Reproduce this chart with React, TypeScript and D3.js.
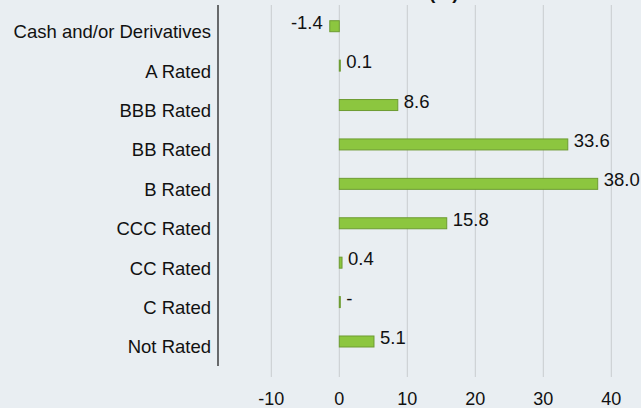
import React from 'react';
import * as d3 from 'd3';

const CATEGORIES = [
  'Cash and/or Derivatives',
  'A Rated',
  'BBB Rated',
  'BB Rated',
  'B Rated',
  'CCC Rated',
  'CC Rated',
  'C Rated',
  'Not Rated',
];
const VALUES = [-1.4, 0.1, 8.6, 33.6, 38.0, 15.8, 0.4, 0, 5.1];
const VALUE_LABELS = ['-1.4', '0.1', '8.6', '33.6', '38.0', '15.8', '0.4', '-', '5.1'];
const X_TICKS = [-10, 0, 10, 20, 30, 40];

const W = 641;
const H = 408;
const FONT = 'Liberation Sans, Arial, Helvetica, sans-serif';

export default function App() {
  document.body.style.margin = '0';

  // scale chosen so that -10 sits at ~271 and 40 at ~611
  const x = d3.scaleLinear().domain([-10, 40]).range([271.3, 611.3]);
  const y = d3.scaleBand().domain(CATEGORIES).range([6.5, 361.2]).paddingInner(0).paddingOuter(0);
  const barH = 11;
  const axisX = 218;

  return (
    <svg width={W} height={H} style={{ display: 'block', background: '#e9eef2' }} fontFamily={FONT}>
      <rect x={0} y={0} width={W} height={H} fill="#e9eef2" />
      {/* cut-off title remnant */}
      <text x={429} y={-1} fontSize={19} fontWeight="bold" fill="#111">(%)</text>

      {/* vertical gridlines */}
      {X_TICKS.map((t) => (
        <line key={t} x1={x(t)} x2={x(t)} y1={5} y2={377} stroke="#c8cccf" strokeWidth={1} />
      ))}

      {/* bars */}
      {CATEGORIES.map((c, i) => {
        const v = VALUES[i];
        const cy = (y(c) as number) + y.bandwidth() / 2;
        const x0 = Math.min(x(0), x(v));
        const w = Math.max(Math.abs(x(v) - x(0)), 1);
        return (
          <g key={c}>
            <rect x={x0} y={cy - barH / 2} width={w} height={barH} fill="#8cc63f" stroke="#6d9c32" strokeWidth={1} />
            <text
              x={v < 0 ? x0 - 7 : x0 + w + 6}
              y={cy + 2.6}
              fontSize={18.5}
              textAnchor={v < 0 ? 'end' : 'start'}
              fill="#111"
            >
              {VALUE_LABELS[i]}
            </text>
            <text x={211} y={cy + 12} fontSize={18.5} textAnchor="end" fill="#111">
              {c}
            </text>
          </g>
        );
      })}

      {/* category axis line */}
      <line x1={axisX} x2={axisX} y1={5} y2={366} stroke="#111" strokeWidth={1.2} />

      {/* x tick labels */}
      {X_TICKS.map((t) => (
        <text key={t} x={x(t)} y={405} fontSize={18} textAnchor="middle" fill="#111">
          {t}
        </text>
      ))}
    </svg>
  );
}
